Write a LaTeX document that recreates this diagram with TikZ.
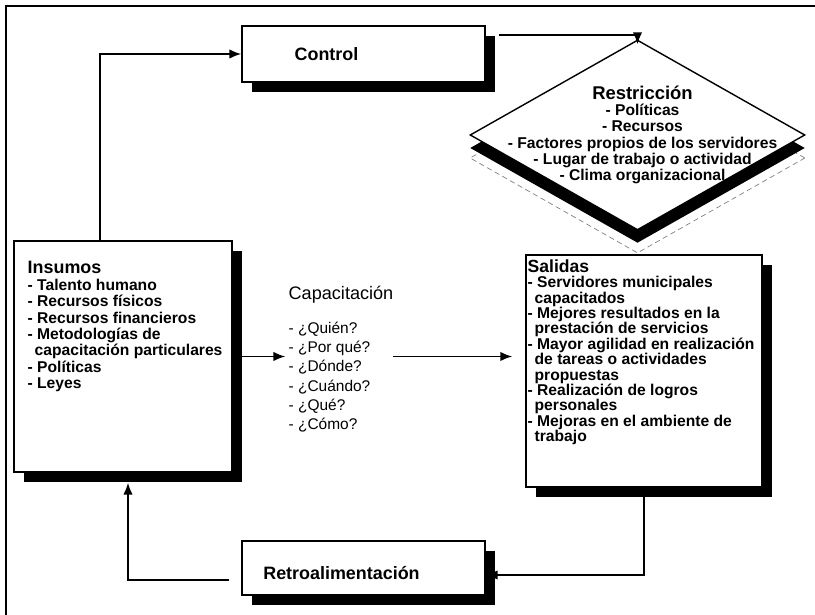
\documentclass[tikz,border=0pt]{standalone}
\usepackage{fontspec}
\setmainfont{Liberation Sans}
\usetikzlibrary{arrows.meta,positioning,shapes.geometric,shadows}
\newcommand{\sangria}{\hspace*{0.45em}}
\tikzset{
  caja/.style={draw=black,fill=white,line width=0.8pt,inner sep=0pt,
               drop shadow={shadow xshift=0.2cm,shadow yshift=-0.2cm,fill=black,opacity=1}},
  rombo/.style={diamond,draw=black,fill=white,line width=0.8pt,inner sep=0pt,
                minimum width=6.7cm,minimum height=3.8cm},
  arr/.style={-{Latex[length=2.4mm,width=1.9mm]},line width=1pt},
  lst/.style={align=left,inner sep=0pt,font=\bfseries\fontsize{8.9}{9.25}\selectfont},
  preg/.style={align=left,inner sep=0pt,font=\fontsize{8.8}{10.9}\selectfont},
  tit/.style={inner sep=0pt,font=\bfseries\fontsize{10.2}{11}\selectfont},
}
\begin{document}
\begin{tikzpicture}
\useasboundingbox (0,0) rectangle (16.3,12.3);
% marco
\draw[line width=0.6pt] (0.12,0) -- (0.12,12.18) -- (16.3,12.18);
% restriccion
\node[rombo,draw=gray,fill=none,densely dashed,line width=0.4pt] (restrfondo) at (12.75,9.14) {};
\node[rombo,drop shadow={shadow xshift=0cm,shadow yshift=-0.26cm,fill=black,opacity=1}] (restr) at (12.75,9.6) {};
\node[lst,align=center] (restrtxt) at ([xshift=0.1cm,yshift=0.0cm]restr.center)
  {{\fontsize{10.5}{11}\selectfont Restricción}\\- Políticas\\- Recursos\\- Factores propios de los servidores\\- Lugar de trabajo o actividad\\- Clima organizacional};
% cajas
\node[caja,minimum width=4.86cm,minimum height=1.12cm] (control) at (7.27,11.22) {};
\node[tit] (controltxt) at ([xshift=-0.74cm]control.center) {Control};
\node[caja,minimum width=4.36cm,minimum height=4.62cm] (insumos) at (2.46,5.17) {};
\node[lst,font=\bfseries\fontsize{8.9}{9.3}\selectfont,below right=0.42cm and 0.28cm of insumos.north west] (insumostxt)
  {{\fontsize{10.2}{11}\selectfont Insumos}\\- Talento humano\\- Recursos físicos\\- Recursos financieros\\- Metodologías de\\\sangria capacitación particulares\\- Políticas\\- Leyes};
\node[caja,minimum width=4.72cm,minimum height=4.64cm] (salidas) at (12.88,4.88) {};
\node[lst,font=\bfseries\fontsize{8.9}{8.75}\selectfont,below right=0.1cm and 0.04cm of salidas.north west] (salidastxt)
  {{\fontsize{10}{11}\selectfont Salidas}\\- Servidores municipales\\\sangria capacitados\\- Mejores resultados en la\\\sangria prestación de servicios\\- Mayor agilidad en realización\\\sangria de tareas o actividades\\\sangria propuestas\\- Realización de logros\\\sangria personales\\- Mejoras en el ambiente de\\\sangria trabajo};
\node[caja,minimum width=4.86cm,minimum height=1.08cm] (retro) at (7.27,0.94) {};
\node[tit] (retrotxt) at ([xshift=-0.44cm,yshift=-0.1cm]retro.center) {Retroalimentación};
% capacitacion
\node[inner sep=0pt,font=\fontsize{10.3}{12}\selectfont] (capac) at (6.82,6.4) {Capacitación};
\node[preg,below right=0.36cm and 0cm of capac.south west] (preguntas)
  {- ¿Quién?\\- ¿Por qué?\\- ¿Dónde?\\- ¿Cuándo?\\- ¿Qué?\\- ¿Cómo?};
% flechas
\draw[arr] ([xshift=-0.46cm]insumos.north) |- (control.west);
\draw[arr,shorten >=-0.1cm] ([xshift=0.26cm,yshift=-0.2cm]control.north east) -| (restr.north);
\draw[arr,shorten >=0.06cm] (insumos.east) -- (insumos.east -| preguntas.west);
\draw[arr,shorten >=0.26cm] ([xshift=0.44cm]preguntas.east |- insumos.east) -- (insumos.east -| salidas.west);
\draw[arr] (salidas.south) |- ([yshift=-0.14cm]retro.east);
\draw[arr] ([xshift=-0.24cm,yshift=-0.24cm]retro.west) -| ([xshift=0.1cm,yshift=-0.2cm]insumos.south);
\end{tikzpicture}
\end{document}
